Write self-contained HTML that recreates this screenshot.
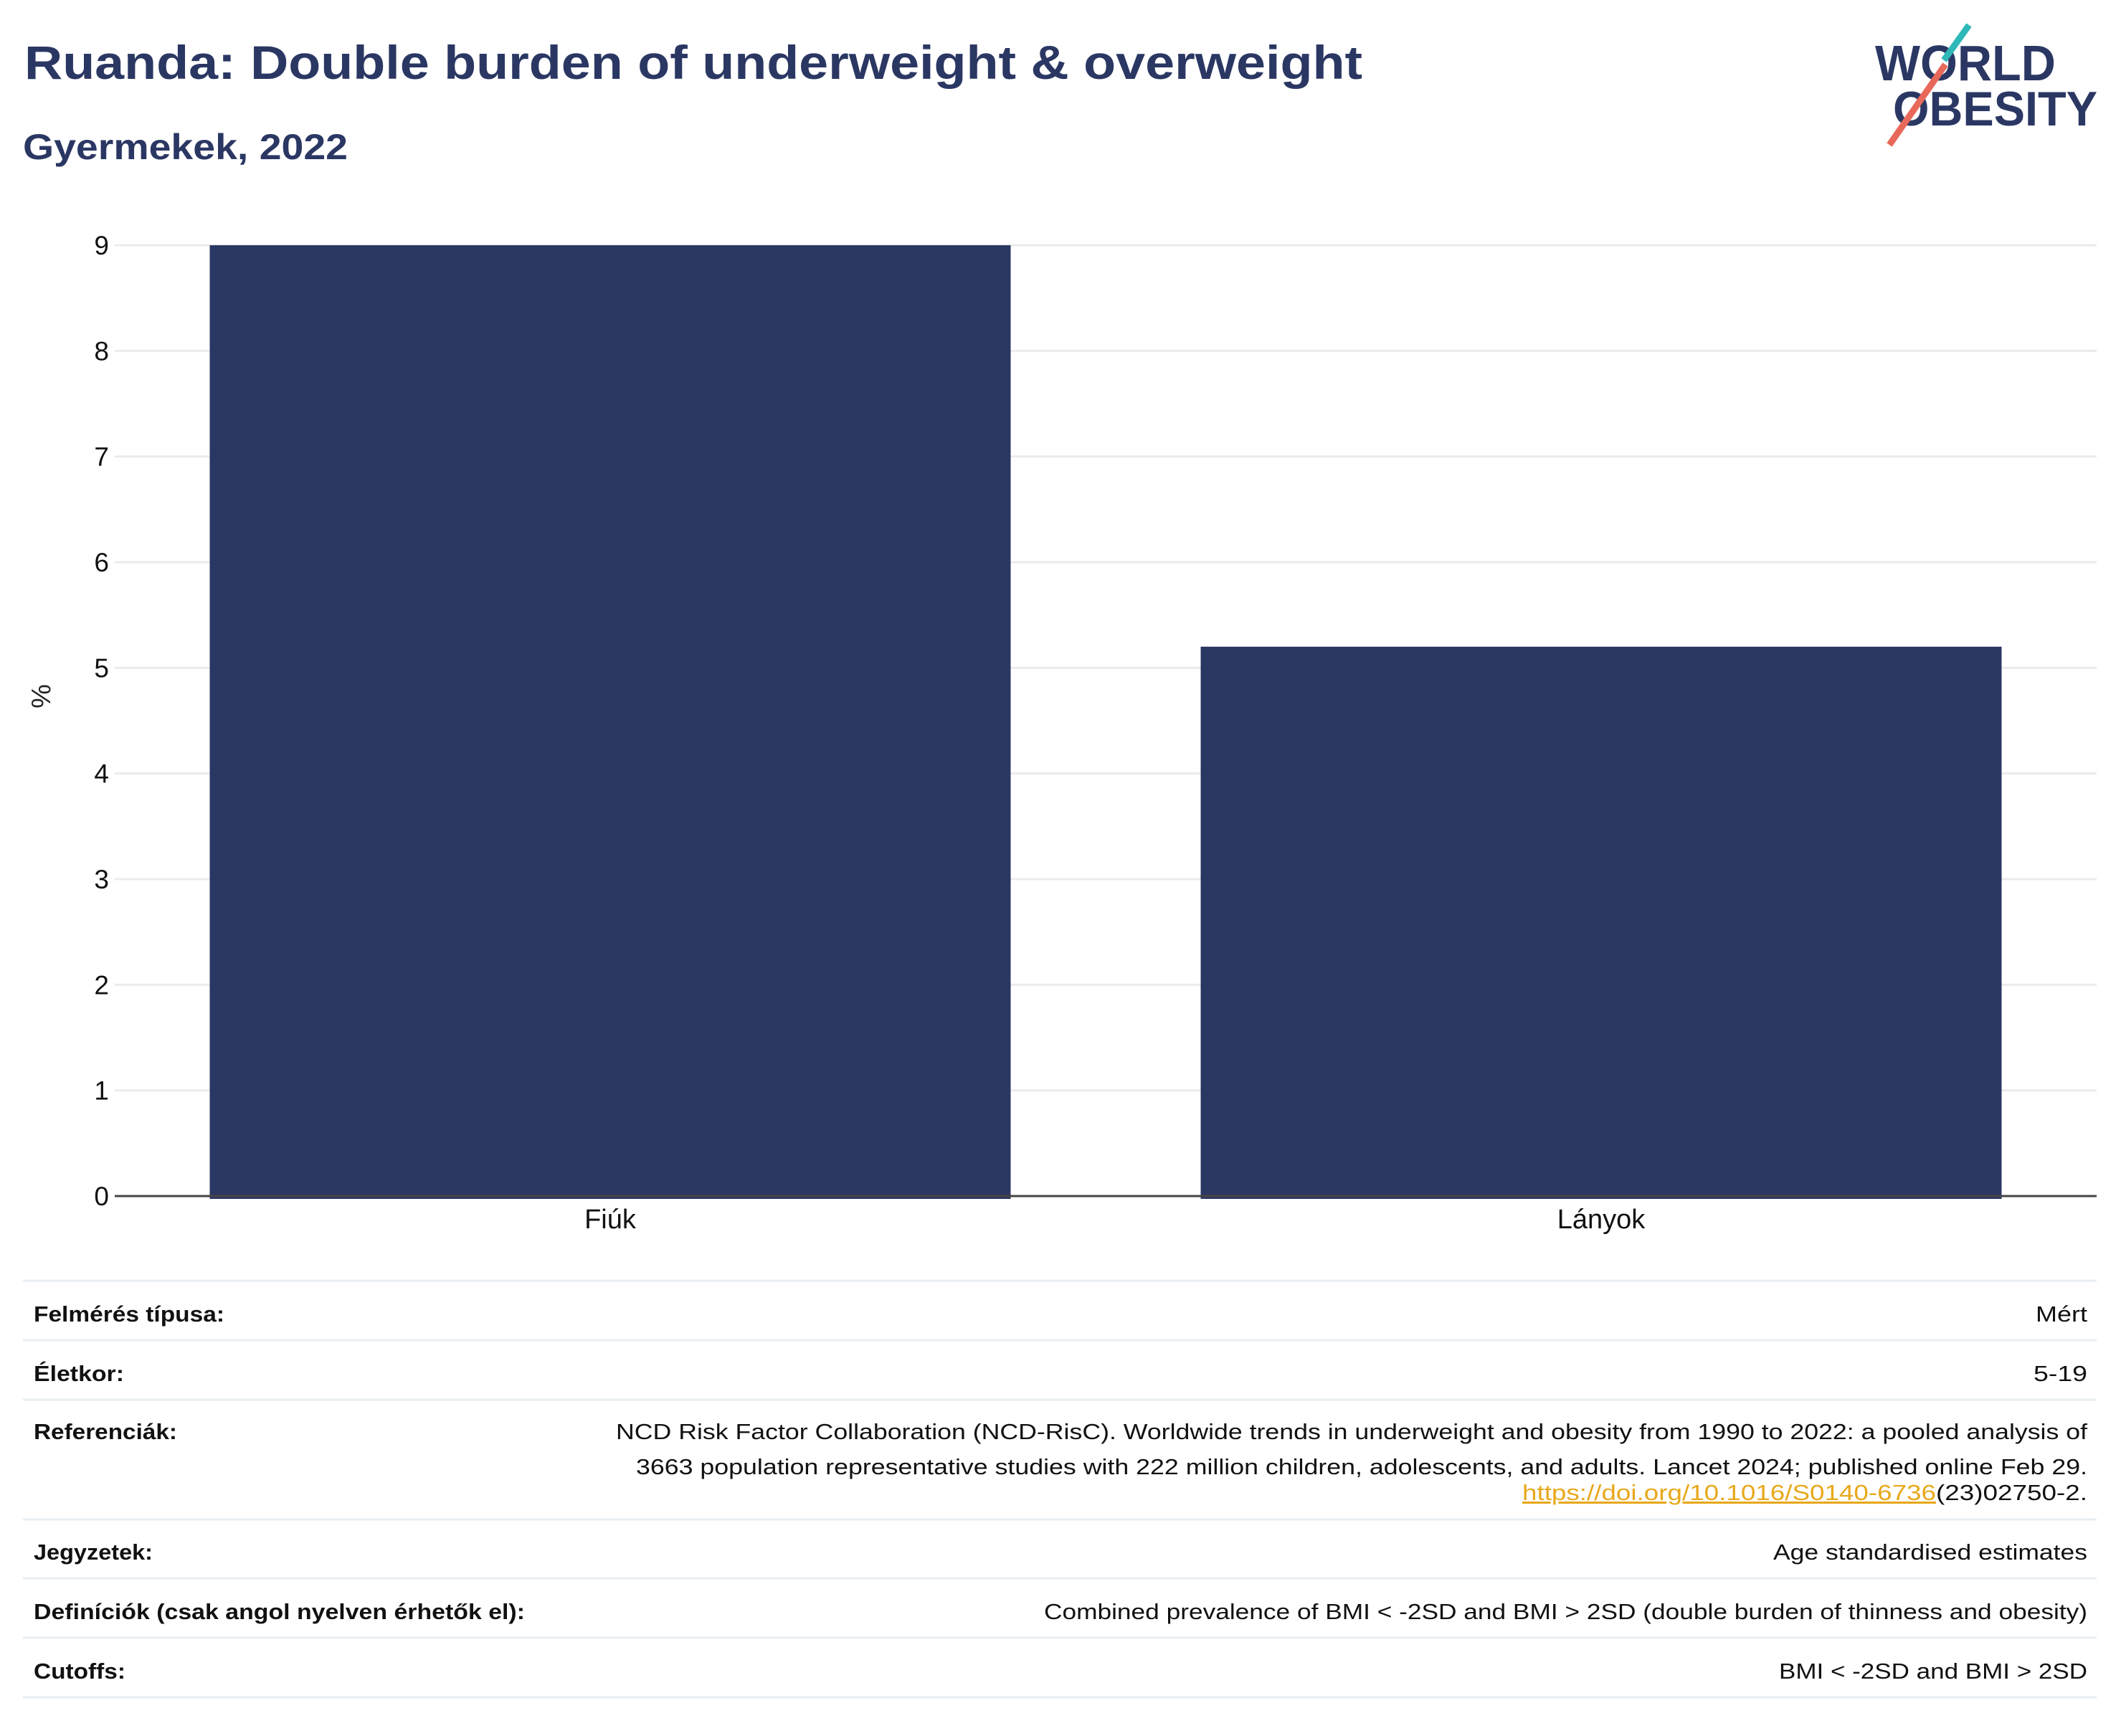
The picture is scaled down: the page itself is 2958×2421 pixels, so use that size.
<!DOCTYPE html>
<html><head><meta charset="utf-8"><style>
html,body{margin:0;padding:0;background:#fff;}
body{width:2958px;height:2421px;position:relative;overflow:hidden;font-family:"Liberation Sans",sans-serif;}
svg{position:absolute;left:0;top:0;}
</style></head><body>
<svg id="chart" width="2958" height="2421" viewBox="0 0 2958 2421">
  <text x="34" y="110" font-size="66" font-weight="bold" fill="#2b3763" textLength="1866" lengthAdjust="spacingAndGlyphs">Ruanda: Double burden of underweight &amp; overweight</text>
  <text x="32" y="222" font-size="50" font-weight="bold" fill="#2b3763" textLength="453" lengthAdjust="spacingAndGlyphs">Gyermekek, 2022</text>
  <g>
    <text x="2615" y="112" font-size="70" font-weight="bold" fill="#2b3763" textLength="252" lengthAdjust="spacingAndGlyphs">WORLD</text>
    <text x="2640" y="175" font-size="68" font-weight="bold" fill="#2b3763" textLength="285" lengthAdjust="spacingAndGlyphs">OBESITY</text>
    <line x1="2746" y1="35" x2="2711" y2="84" stroke="#2fb8b8" stroke-width="9"/>
    <line x1="2713" y1="90" x2="2635" y2="202" stroke="#e8695a" stroke-width="9"/>
  </g>
  <g id="grid"></g>
  <g id="bars"></g>
  <line x1="160" y1="1668" x2="2924" y2="1668" stroke="#444" stroke-width="3"/>
  <g id="yticks"></g>
  <g id="xticks"></g>
  <text transform="translate(70,971) rotate(-90)" text-anchor="middle" font-size="38" fill="#222">%</text>
  <g id="table" font-size="31" fill="#111"></g>
</svg>
<script>
const categories = ["Fiúk", "Lányok"];
const values = [9.0, 5.2];
const yTicks = [0,1,2,3,4,5,6,7,8,9];
const tableLabels = ["Felmérés típusa:", "Életkor:", "Referenciák:", "Jegyzetek:", "Definíciók (csak angol nyelven érhetők el):", "Cutoffs:"];

const NS = "http://www.w3.org/2000/svg";
const y0 = 1668, y9 = 342;
const yScale = v => y0 - (y0 - y9) * v / 9;
const xLeft = 160, xRight = 2924;
const band = (xRight - xLeft) / categories.length;
const barW = 1117;
const xCenter = i => xLeft + band * (i + 0.5);
function mk(tag, attrs, parent){const e=document.createElementNS(NS,tag);for(const k in attrs)e.setAttribute(k,attrs[k]);parent.appendChild(e);return e;}

const grid = document.getElementById('grid');
const yt = document.getElementById('yticks');
yTicks.forEach(t => {
  if (t > 0) {
    const l = mk('line',{x1:xLeft,x2:xRight,y1:yScale(t),y2:yScale(t),stroke:'#ebebeb','stroke-width':3},grid);
    
    
  }
  const tx = mk('text',{x:152,y:yScale(t)+13,'text-anchor':'end','font-size':37,fill:'#111'},yt);
  tx.textContent = t;
  
  
});

const bars = document.getElementById('bars');
const xt = document.getElementById('xticks');
categories.forEach((c,i) => {
  const r = mk('rect',{x:xCenter(i)-barW/2,y:yScale(values[i]),width:barW,height:y0-yScale(values[i])+4,fill:'#2b3763'},bars);
  
  
  const t = mk('text',{x:xCenter(i),y:1713,'text-anchor':'middle','font-size':38,fill:'#111'},xt);
  t.textContent = c;
  
  
});

const table = document.getElementById('table');
[1786,1869,1952,2119,2201,2284,2367].forEach(y => {
  const l = mk('line',{x1:32,x2:2924,y1:y,y2:y,stroke:'#e8eef2','stroke-width':3},table);
  
  
});
const labelYs = [1843,1926,2007,2175,2258,2341];
const labelW = [266,126,200,166,685,128];
tableLabels.forEach((s,i) => {
  const t = mk('text',{x:47,y:labelYs[i],'font-weight':'bold',textLength:labelW[i],lengthAdjust:'spacingAndGlyphs'},table);
  t.textContent = s;
  
  
});
const rightVals = [[1843,"Mért",72],[1926,"5-19",75],[2007,"NCD Risk Factor Collaboration (NCD-RisC). Worldwide trends in underweight and obesity from 1990 to 2022: a pooled analysis of",2052],[2056,"3663 population representative studies with 222 million children, adolescents, and adults. Lancet 2024; published online Feb 29.",2024],[2175,"Age standardised estimates",438],[2258,"Combined prevalence of BMI < -2SD and BMI > 2SD (double burden of thinness and obesity)",1455],[2341,"BMI < -2SD and BMI > 2SD",430]];
rightVals.forEach(([y,s,w]) => {
  const t = mk('text',{x:2911-w,y:y,textLength:w,lengthAdjust:'spacingAndGlyphs'},table);
  t.textContent = s;
  
  
});
const link = mk('text',{x:2123,y:2092,textLength:577,lengthAdjust:'spacingAndGlyphs',fill:'#e8a81c','text-decoration':'underline'},table);
link.textContent = "https://doi.org/10.1016/S0140-6736";


const rest = mk('text',{x:2700,y:2092,textLength:211,lengthAdjust:'spacingAndGlyphs',fill:'#111'},table);
rest.textContent = "(23)02750-2.";


</script>
</body></html>
